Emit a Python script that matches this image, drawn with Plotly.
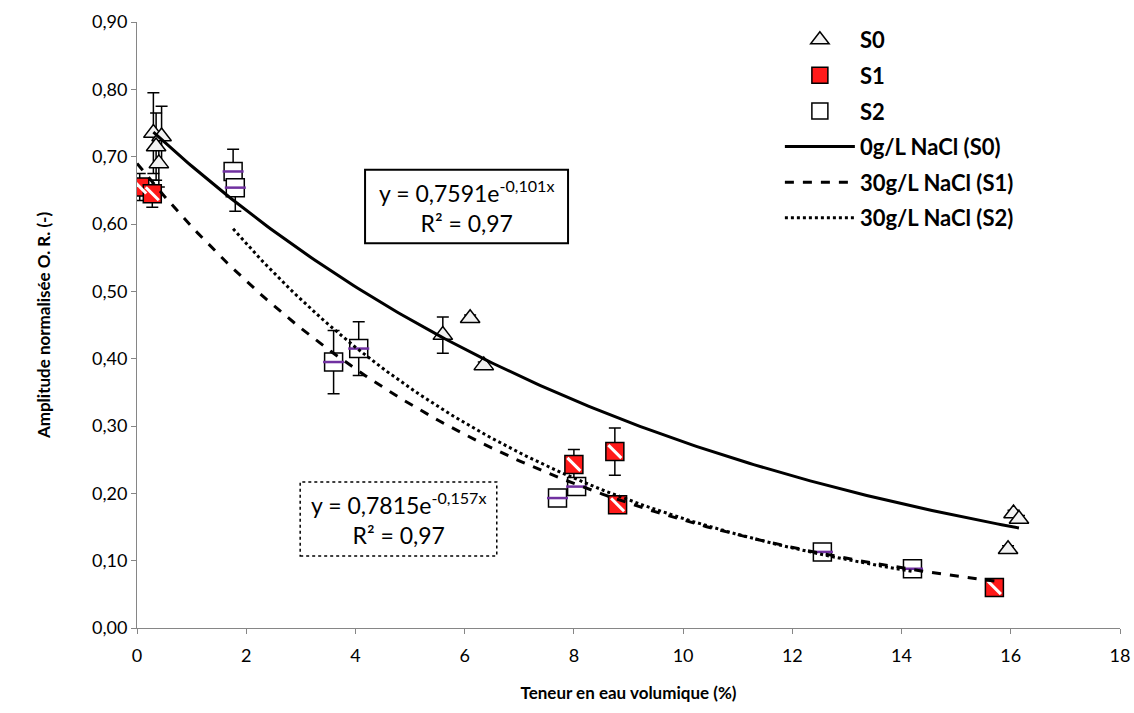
import numpy as np
import plotly.graph_objects as go

# ---- data ----
s0_x = [0.30, 0.45, 0.35, 0.40, 5.60, 6.10, 6.35, 16.05, 16.15, 15.95]
s0_y = [0.735, 0.730, 0.715, 0.690, 0.435, 0.460, 0.390, 0.170, 0.162, 0.117]
s0_err = [0.060, 0.045, 0.050, 0.035, 0.027, 0.005, 0.005, 0.005, 0.005, 0.005]

s1_x = [0.05, 0.28, 8.00, 8.75, 8.80, 15.70]
s1_y = [0.655, 0.645, 0.243, 0.262, 0.183, 0.060]
s1_err = [0.020, 0.020, 0.022, 0.035, 0.010, 0.005]

s2_x = [1.76, 1.80, 3.60, 4.06, 7.70, 8.05, 12.55, 14.20]
s2_y = [0.678, 0.654, 0.395, 0.415, 0.193, 0.210, 0.113, 0.088]
s2_err = [0.033, 0.035, 0.047, 0.040, 0.005, 0.008, 0.005, 0.005]

# exponential trendline coefficients (y = a * exp(-k x))
fit_s0 = (0.7591, 0.101)
fit_s1 = (0.690, 0.146)
fit_s2 = (0.7815, 0.157)

eq_s0 = "y = 0,7591e<sup>-0,101x</sup><br>R² = 0,97"
eq_s2 = "y = 0,7815e<sup>-0,157x</sup><br>R² = 0,97"

x_ticks = list(range(0, 19, 2))

FONT = "Lato"

fig = go.Figure()

def err(e):
    return dict(type="data", array=e, visible=True, color="black", thickness=1.5, width=6)

# markers
fig.add_trace(go.Scatter(
    x=s0_x, y=s0_y, mode="markers", name="S0", legendrank=1, legendgroup="g1",
    error_y=err(s0_err),
    marker=dict(symbol="triangle-up", size=17, color="#f2f2f2",
                line=dict(color="black", width=1.5))))
fig.add_trace(go.Scatter(
    x=s1_x, y=s1_y, mode="markers", name="S1", legendrank=2, legendgroup="g2",
    error_y=err(s1_err),
    marker=dict(symbol="square", size=18, color="#ff1a1a",
                line=dict(color="black", width=1.5))))
fig.add_trace(go.Scatter(
    x=s1_x, y=s1_y, mode="markers", showlegend=False, hoverinfo="skip", legendgroup="g2",
    marker=dict(symbol="line-nw", size=13, line=dict(color="white", width=3))))
fig.add_trace(go.Scatter(
    x=s2_x, y=s2_y, mode="markers", name="S2", legendrank=3, legendgroup="g3",
    error_y=err(s2_err),
    marker=dict(symbol="square", size=18, color="white",
                line=dict(color="black", width=1.5))))
fig.add_trace(go.Scatter(
    x=s2_x, y=s2_y, mode="markers", showlegend=False, hoverinfo="skip", legendgroup="g3",
    marker=dict(symbol="line-ew", size=15, line=dict(color="#7030a0", width=2.5))))

# trendlines
def curve(xs, fit):
    xx = np.linspace(min(xs), max(xs), 200)
    return xx, fit[0] * np.exp(-fit[1] * xx)

for xs, fit, dash, name, rank in [
    (s0_x, fit_s0, "solid", "0g/L NaCl (S0)", 4),
    ([0.0] + s1_x, fit_s1, "dash", "30g/L NaCl (S1)", 5),
    (s2_x, fit_s2, "dot", "30g/L NaCl (S2)", 6),
]:
    xx, yy = curve(xs, fit)
    fig.add_trace(go.Scatter(x=xx, y=yy, mode="lines", name=name, legendrank=rank,
                             legendgroup="g%d" % rank,
                             line=dict(color="black", width=3, dash=dash)))

# equation boxes
b1 = (0.232, 0.4385, 0.635, 0.756)
b2 = (0.166, 0.366, 0.119, 0.241)
fig.add_shape(type="rect", xref="paper", yref="paper", x0=b1[0], x1=b1[1], y0=b1[2], y1=b1[3],
              line=dict(color="black", width=2), fillcolor="white", layer="below")
fig.add_shape(type="rect", xref="paper", yref="paper", x0=b2[0], x1=b2[1], y0=b2[2], y1=b2[3],
              line=dict(color="black", width=1.5, dash="dot"), fillcolor="white", layer="below")
for b, t in [(b1, eq_s0), (b2, eq_s2)]:
    fig.add_annotation(xref="paper", yref="paper", x=(b[0] + b[1]) / 2, y=(b[2] + b[3]) / 2,
                       xanchor="center", yanchor="middle",
                       text=t, showarrow=False, align="center",
                       font=dict(family=FONT, size=23, color="black"))

axis_common = dict(showline=True, linecolor="#868686", linewidth=1, showgrid=False,
                   zeroline=False, ticks="outside", ticklen=5, tickcolor="#868686",
                   automargin=False,
                   tickfont=dict(family=FONT, size=18, color="black"))

fig.update_layout(
    width=1134, height=713,
    margin=dict(l=137, r=14, t=22, b=85),
    paper_bgcolor="white", plot_bgcolor="white",
    separators=", ",
    font=dict(family=FONT, size=17, color="black"),
    xaxis=dict(range=[0, 18], tickvals=x_ticks, tickformat="d", ticklabelstandoff=6,
               title=dict(text="<b>Teneur en eau volumique (%)</b>", standoff=22,
                          font=dict(family=FONT, size=17)),
               **axis_common),
    yaxis=dict(range=[0, 0.9], dtick=0.1, tickformat=".2f",
               title=dict(text="<b>Amplitude normalisée O. R. (-)</b>", standoff=37,
                          font=dict(family=FONT, size=17)),
               **axis_common),
    legend=dict(x=0.654, y=1.005, xanchor="left", yanchor="top",
                bgcolor="rgba(0,0,0,0)", itemwidth=70, tracegroupgap=4,
                traceorder="grouped",
                font=dict(family=FONT, size=22, color="black", weight="bold")),
    showlegend=True,
)

fig.write_html("out.html", config={"displayModeBar": False},
               post_script="document.body.style.margin='0';document.body.style.padding='0';")
